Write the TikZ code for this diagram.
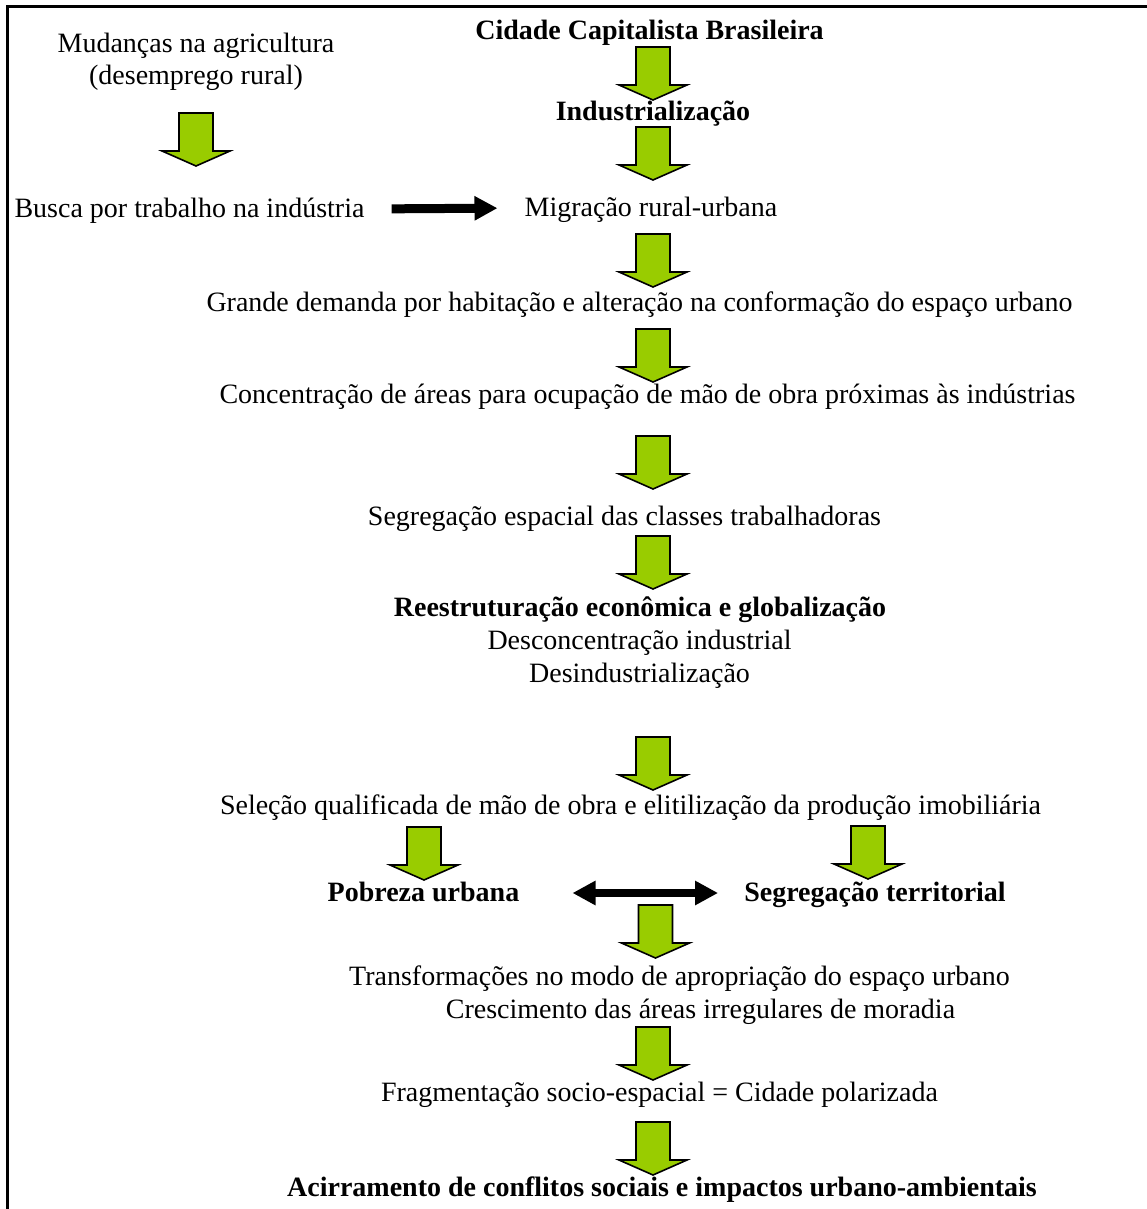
\documentclass[tikz,border=0pt]{standalone}
\usepackage{fontspec}
\setmainfont{Liberation Serif}
\usetikzlibrary{arrows.meta}
\definecolor{garrowfill}{HTML}{99CC00}
\tikzset{
  lbl/.style={anchor=base, inner sep=0pt, font=\fontsize{28}{32}\selectfont, text height=22pt, text depth=6pt},
  lblb/.style={lbl, font=\fontsize{28}{32}\selectfont\bfseries},
  gblock/.style={fill=garrowfill, draw=black, line width=1.6pt, line join=miter},
  garrow/.pic={\path[gblock] (-17,0) -- (17,0) -- (17,38) -- (34,38) -- (0,53) -- (-34,38) -- (-17,38) -- cycle;},
  blk/.style={line width=9pt, -{Triangle[length=23pt,width=23pt]}},
  dblk/.style={line width=8pt, {Triangle[length=23pt,width=23pt]}-{Triangle[length=23pt,width=23pt]}},
  frameline/.style={line width=2.5pt, draw=black},
}
\begin{document}
\begin{tikzpicture}[x=1pt,y=-1pt]
\useasboundingbox (0,0) rectangle (1147,1209);
% frame (left and top edges)
\coordinate (fbl) at (7.5,1209);
\coordinate (ftl) at (7.5,6.5);
\coordinate (ftr) at (1147,6.5);
\draw[frameline] (fbl) -- (ftl) -- (ftr);

% left column
\node[lbl] (mud1) at (196,53) {Mudanças na agricultura};
\node[lbl] (mud2) at (196,85) {(desemprego rural)};
\node[lbl] (busca) at (189.5,217) {Busca por trabalho na indústria};

% main column
\node[lblb] (cidade) at (649.5,40) {Cidade Capitalista Brasileira};
\node[lblb] (indus) at (653,121) {Industrialização};
\node[lbl] (migr) at (651,216) {Migração rural-urbana};
\node[lbl] (grande) at (639.5,311) {Grande demanda por habitação e alteração na conformação do espaço urbano};
\node[lbl] (conc) at (647.5,403) {Concentração de áreas para ocupação de mão de obra próximas às indústrias};
\node[lbl] (segesp) at (624.5,525) {Segregação espacial das classes trabalhadoras};
\node[lblb] (reest) at (640,616) {Reestruturação econômica e globalização};
\node[lbl] (descon) at (639.5,649) {Desconcentração industrial};
\node[lbl] (desind) at (639.5,682) {Desindustrialização};
\node[lbl] (selecao) at (630.5,814) {Seleção qualificada de mão de obra e elitilização da produção imobiliária};
\node[lblb] (pobreza) at (423.5,901) {Pobreza urbana};
\node[lblb] (segterr) at (875,901) {Segregação territorial};
\node[lbl] (transf) at (679.5,985) {Transformações no modo de apropriação do espaço urbano};
\node[lbl] (cresc) at (700.5,1018) {Crescimento das áreas irregulares de moradia};
\node[lbl] (frag) at (659.5,1101) {Fragmentação socio-espacial = Cidade polarizada};
\node[lblb] (acirr) at (662,1196) {Acirramento de conflitos sociais e impactos urbano-ambientais};

% green block arrows
\pic (g1) at (196,113) {garrow};
\pic (g2) at (653,47) {garrow};
\pic (g3) at (653,127) {garrow};
\pic (g4) at (653,234) {garrow};
\pic (g5) at (653,329) {garrow};
\pic (g6) at (653,436) {garrow};
\pic (g7) at (653,536) {garrow};
\pic (g8) at (653,737) {garrow};
\pic (g9) at (424,827) {garrow};
\pic (g10) at (868,826) {garrow};
\pic (g11) at (655.5,905) {garrow};
\pic (g12) at (653,1027) {garrow};
\pic (g13) at (653,1122) {garrow};

% black arrows
\draw[blk, shorten <=27pt, shorten >=27pt] (busca.east) -- (migr.west);
\draw[dblk, shorten <=53pt, shorten >=26pt] (pobreza.east) -- (segterr.west);
\end{tikzpicture}
\end{document}
